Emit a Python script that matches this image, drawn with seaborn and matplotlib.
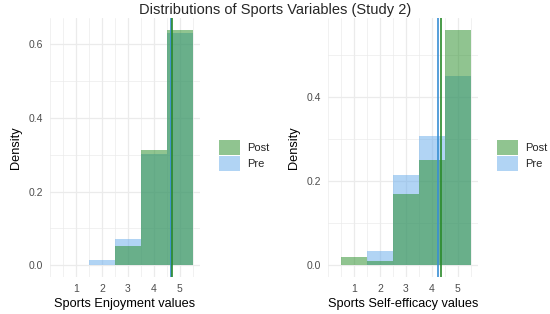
import matplotlib
matplotlib.use('Agg')
import matplotlib.pyplot as plt
import seaborn as sns
import numpy as np
from matplotlib.patches import Patch
from matplotlib.ticker import MultipleLocator

# Datos (densidades)
scores = [1, 2, 3, 4, 5]
enjoy_pre = [0.0, 0.013, 0.071, 0.303, 0.632]
enjoy_post = [0.0, 0.0, 0.053, 0.312, 0.640]
selfeff_pre = [0.0, 0.033, 0.215, 0.307, 0.449]
selfeff_post = [0.019, 0.011, 0.169, 0.250, 0.560]
means_enjoy = {'Pre': 4.67, 'Post': 4.71}
means_selfeff = {'Pre': 4.22, 'Post': 4.34}
xlabels = ['Sports Enjoyment values', 'Sports Self-efficacy values']
title = 'Distributions of Sports Variables (Study 2)'

sns.set_theme(style='white')
plt.rcParams['font.family'] = ['Liberation Sans', 'DejaVu Sans']

col_post = (34/255, 139/255, 34/255)
col_pre = (100/255, 170/255, 235/255)
line_post = '#2a8a2a'
line_pre = '#3a8fd4'
grid_col = '#ebebeb'

fig = plt.figure(figsize=(5.5, 3.14), dpi=100)
W, H = 550, 314

def add_ax(x0, x1, y0, y1):
    return fig.add_axes([x0 / W, 1 - y1 / H, (x1 - x0) / W, (y1 - y0) / H])

ax1 = add_ax(50, 200, 18, 277)
ax2 = add_ax(328, 478, 18, 277)

panels = [
    (ax1, enjoy_pre, enjoy_post, means_enjoy, (-0.032, 0.672), xlabels[0]),
    (ax2, selfeff_pre, selfeff_post, means_selfeff, (-0.028, 0.588), xlabels[1]),
]

for ax, pre, post, means, ylim, xlab in panels:
    sns.histplot(x=scores, weights=pre, discrete=True, stat='count', ax=ax,
                 color=col_pre, alpha=0.5, linewidth=0, edgecolor='none')
    sns.histplot(x=scores, weights=post, discrete=True, stat='count', ax=ax,
                 color=col_post, alpha=0.5, linewidth=0, edgecolor='none')
    ax.axvline(means['Pre'], color=line_pre, lw=1.2)
    ax.axvline(means['Post'], color=line_post, lw=1.2)

    ax.set_xlim(-0.01, 5.78)
    ax.set_ylim(*ylim)
    ax.set_xticks(scores)
    ax.xaxis.set_minor_locator(MultipleLocator(0.5))
    ax.yaxis.set_major_locator(MultipleLocator(0.2))
    ax.yaxis.set_minor_locator(MultipleLocator(0.1))
    ax.grid(True, which='major', color=grid_col, lw=0.9)
    ax.grid(True, which='minor', color=grid_col, lw=0.5)
    ax.set_axisbelow(True)
    for s in ax.spines.values():
        s.set_visible(False)
    ax.tick_params(axis='both', which='both', length=0, labelsize=7.5,
                   labelcolor='#4d4d4d', pad=5)
    ax.yaxis.set_major_formatter(matplotlib.ticker.FormatStrFormatter('%.1f'))
    ax.set_xlabel(xlab, fontsize=9.2, color='black', labelpad=3)
    ax.set_ylabel('Density', fontsize=9.2, color='black', labelpad=5)

    handles = [Patch(facecolor=col_post, alpha=0.5, edgecolor='none'),
               Patch(facecolor=col_pre, alpha=0.5, edgecolor='none')]
    ax.legend(handles, ['Post', 'Pre'], loc='center left', bbox_to_anchor=(1.06, 0.47),
              frameon=False, fontsize=8, handlelength=1.9, handleheight=1.75,
              labelspacing=0.05, handletextpad=0.6)

fig.text(275 / W, 1 - 10 / H, title, ha='center', va='center', fontsize=10.5)

plt.savefig('out.png', dpi=100)
